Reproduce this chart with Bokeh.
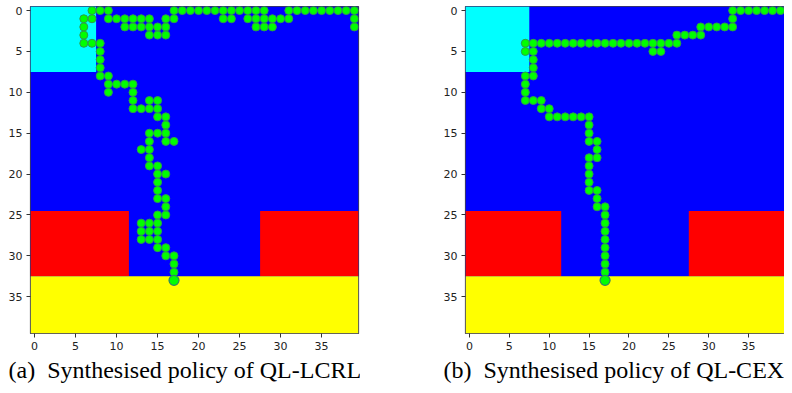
from bokeh.plotting import figure
from bokeh.models import Range1d, FixedTicker, Title, ColumnDataSource
from bokeh.layouts import row
from bokeh.embed import file_html
from bokeh.resources import INLINE

# Grid world regions (cell index ranges, inclusive)
region_names = ["free", "start", "unsafe_left", "unsafe_right", "goal"]
region_colors = ["#0000ff", "#00ffff", "#ff0000", "#ff0000", "#ffff00"]
region_col_first = [0, 0, 0, 28, 0]
region_col_last = [39, 7, 11, 39, 39]
region_row_first = [0, 0, 25, 25, 33]
region_row_last = [39, 7, 32, 32, 39]

tick_values = [0, 5, 10, 15, 20, 25, 30, 35]

# Visited cells (row, col) of the synthesised policies; last cell is the end point
lcrl_cells = [
    (0, 7), (0, 8), (0, 9), (0, 17), (0, 18), (0, 19), (0, 20), (0, 21), (0, 22), (0, 23),
    (0, 24), (0, 25), (0, 26), (0, 27), (0, 28), (0, 31), (0, 32), (0, 33), (0, 34), (0, 35),
    (0, 36), (0, 37), (0, 38), (0, 39),
    (1, 6), (1, 7), (1, 9), (1, 10), (1, 11), (1, 12), (1, 13), (1, 14), (1, 16), (1, 17),
    (1, 23), (1, 24), (1, 26), (1, 27), (1, 28), (1, 29), (1, 30), (1, 31), (1, 39),
    (2, 6), (2, 11), (2, 12), (2, 13), (2, 14), (2, 15), (2, 16), (2, 27), (2, 28), (2, 29), (2, 39),
    (3, 6), (3, 14), (3, 15), (3, 16),
    (4, 6), (4, 7), (4, 8),
    (5, 8), (6, 8), (7, 8),
    (8, 8), (8, 9),
    (9, 9), (9, 10), (9, 11), (9, 12),
    (10, 9), (10, 12),
    (11, 12), (11, 14), (11, 15),
    (12, 12), (12, 13), (12, 14), (12, 15),
    (13, 15), (13, 16),
    (14, 16),
    (15, 14), (15, 15), (15, 16),
    (16, 14), (16, 16), (16, 17),
    (17, 13), (17, 14),
    (18, 14),
    (19, 14), (19, 15),
    (20, 15), (20, 16),
    (21, 15), (22, 15),
    (23, 15), (23, 16),
    (24, 16),
    (25, 15), (25, 16),
    (26, 13), (26, 14), (26, 15),
    (27, 13), (27, 14), (27, 15),
    (28, 13), (28, 14), (28, 15),
    (29, 15), (29, 16),
    (30, 16), (30, 17),
    (31, 17), (32, 17),
    (33, 17),
]

cex_cells = [
    (0, 33), (0, 34), (0, 35), (0, 36), (0, 37), (0, 38), (0, 39),
    (1, 33),
    (2, 29), (2, 30), (2, 31), (2, 32), (2, 33),
    (3, 26), (3, 27), (3, 28), (3, 29),
    (4, 7), (4, 8), (4, 9), (4, 10), (4, 11), (4, 12), (4, 13), (4, 14), (4, 15), (4, 16),
    (4, 17), (4, 18), (4, 19), (4, 20), (4, 21), (4, 22), (4, 23), (4, 24), (4, 25), (4, 26),
    (5, 7), (5, 8), (5, 23), (5, 24),
    (6, 8), (7, 8),
    (8, 7), (8, 8),
    (9, 7), (10, 7),
    (11, 7), (11, 8), (11, 9),
    (12, 9), (12, 10),
    (13, 10), (13, 11), (13, 12), (13, 13), (13, 14), (13, 15),
    (14, 15), (15, 15),
    (16, 15), (16, 16),
    (17, 16),
    (18, 15), (18, 16),
    (19, 15), (20, 15), (21, 15),
    (22, 15), (22, 16),
    (23, 16),
    (24, 16), (24, 17),
    (25, 17), (26, 17), (27, 17), (28, 17), (29, 17), (30, 17), (31, 17), (32, 17),
    (33, 17),
]

captions = ["(a)\u2002Synthesised policy of QL-LCRL", "(b)\u2002Synthesised policy of QL-CEX"]

PANEL_H = 385


def make_panel(cells, caption, width, border_left, border_right, cap_offset):
    p = figure(
        width=width, height=PANEL_H,
        x_range=Range1d(-0.5, 39.5), y_range=Range1d(39.5, -0.5),
        output_backend="svg", toolbar_location=None,
        min_border_left=border_left, min_border_right=border_right,
        min_border_top=6, min_border_bottom=52,
    )
    regions = ColumnDataSource(dict(
        name=region_names, color=region_colors,
        left=[c - 0.5 for c in region_col_first], right=[c + 0.5 for c in region_col_last],
        top=[r - 0.5 for r in region_row_first], bottom=[r + 0.5 for r in region_row_last],
    ))
    p.quad(left="left", right="right", top="top", bottom="bottom",
           fill_color="color", line_color=None, source=regions)

    rows = [r for r, c in cells]
    cols = [c for r, c in cells]
    p.scatter(x=cols[:-1], y=rows[:-1], size=8, marker="circle",
              fill_color="#00ff00", line_color="#2e9a4e", line_width=1)
    p.scatter(x=cols[-1:], y=rows[-1:], size=10, marker="circle",
              fill_color="#00ff00", line_color="#2f7f6a", line_width=1.2)

    p.xgrid.visible = False
    p.ygrid.visible = False
    p.outline_line_color = "#444444"
    p.outline_line_width = 1.2
    for ax in (p.xaxis[0], p.yaxis[0]):
        ax.ticker = FixedTicker(ticks=tick_values)
        ax.minor_tick_line_color = None
        ax.major_tick_in = 0
        ax.major_tick_out = 4
        ax.major_tick_line_color = "#333333"
        ax.axis_line_color = None
        ax.major_label_text_font = "DejaVu Sans"
        ax.major_label_text_font_size = "11px"
        ax.major_label_text_color = "#222222"
        ax.major_label_standoff = 4

    t = Title(text=caption, align="left", offset=cap_offset,
              text_font="Liberation Serif", text_font_size="24px",
              text_font_style="normal", text_color="#000000", standoff=4)
    p.add_layout(t, "below")
    return p


p1 = make_panel(lcrl_cells, captions[0], 360, 30, 2, -22)
p2 = make_panel(cex_cells, captions[1], 424, 105, 0, -22)

layout = row(p1, p2, spacing=0)
open("out.html", "w").write(file_html(layout, INLINE))
